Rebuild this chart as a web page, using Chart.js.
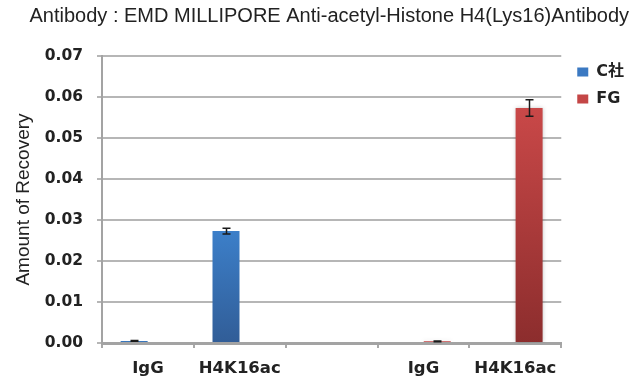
<!DOCTYPE html>
<html>
<head>
<meta charset="utf-8">
<script src="https://cdn.jsdelivr.net/npm/chart.js@4.4.1/dist/chart.umd.min.js"></script>
<style>
  html, body { margin: 0; padding: 0; background: #ffffff; }
  #wrap { width: 635px; height: 378px; }
</style>
</head>
<body>
<div id="wrap"><canvas id="chart" width="635" height="378"></canvas></div>
<script>
// Categories along the x axis (third slot is an empty spacer between the groups)
const categories = ['IgG', 'H4K16ac', '', 'IgG', 'H4K16ac'];
const seriesNames = ['C社', 'FG'];

// Recovery amounts and their error (± half-range) per category
const cValues  = [0.0005, 0.0273, null, null, null];
const cErrors  = [0.0001, 0.0007, null, null, null];
const fgValues = [null, null, null, 0.0004, 0.0573];
const fgErrors = [null, null, null, 0.0001, 0.0020];

// y-axis range and step
const yMin = 0;
const yMax = 0.07;
const yStep = 0.01;

const chartTitle = 'Antibody : EMD MILLIPORE Anti-acetyl-Histone H4(Lys16)Antibody';
const yAxisTitle = 'Amount of Recovery';

// Vertical gradient running from the top of each bar down to its base
function barGradient(topColor, bottomColor) {
  return (ctx) => {
    const chart = ctx.chart;
    const y = chart.scales && chart.scales.y;
    if (!chart.chartArea || !y || ctx.raw == null) return topColor;
    const top = y.getPixelForValue(ctx.raw);
    const base = y.getPixelForValue(0);
    if (!(base > top)) return topColor;
    const g = chart.ctx.createLinearGradient(0, top, 0, base);
    g.addColorStop(0, topColor);
    g.addColorStop(1, bottomColor);
    return g;
  };
}

// Soft drop shadow behind the bars of datasets flagged with `shadow`
const barShadow = {
  id: 'barShadow',
  beforeDatasetDraw(chart, args) {
    const ds = chart.data.datasets[args.index];
    if (!ds.shadow) return;
    const ctx = chart.ctx;
    ctx.save();
    ctx.shadowColor = 'rgba(0,0,0,0.22)';
    ctx.shadowBlur = 4;
    ctx.shadowOffsetX = 0;
    ctx.shadowOffsetY = 0;
  },
  afterDatasetDraw(chart, args) {
    const ds = chart.data.datasets[args.index];
    if (!ds.shadow) return;
    chart.ctx.restore();
  }
};

// Draws a capped vertical error bar on every bar that has an error value
const errorBars = {
  id: 'errorBars',
  afterDatasetsDraw(chart) {
    const { ctx, scales: { y } } = chart;
    ctx.save();
    ctx.strokeStyle = '#1a1a1a';
    ctx.lineWidth = 1.5;
    chart.data.datasets.forEach((ds, i) => {
      const meta = chart.getDatasetMeta(i);
      meta.data.forEach((bar, j) => {
        const v = ds.data[j];
        const e = ds.errors ? ds.errors[j] : null;
        if (v == null || e == null) return;
        const x = Math.round(bar.x) + 0.5;
        const yt = y.getPixelForValue(v + e);
        const yb = y.getPixelForValue(v - e);
        const cap = 4;
        ctx.beginPath();
        ctx.moveTo(x, yt); ctx.lineTo(x, yb);
        ctx.moveTo(x - cap, yt); ctx.lineTo(x + cap, yt);
        ctx.moveTo(x - cap, yb); ctx.lineTo(x + cap, yb);
        ctx.stroke();
      });
    });
    ctx.restore();
  }
};

// Nudges the legend block to its place beside the plot
const legendPlacement = {
  id: 'legendPlacement',
  afterLayout(chart, args, opts) {
    const lg = chart.legend;
    if (!lg) return;
    const dx = opts.dx || 0, dy = opts.dy || 0;
    lg.left += dx; lg.right += dx;
    lg.top += dy; lg.bottom += dy;
  }
};

const legendColors = ['#3b79c2', '#c44646'];

new Chart(document.getElementById('chart'), {
  type: 'bar',
  data: {
    labels: categories,
    datasets: [
      {
        label: seriesNames[0],
        data: cValues,
        errors: cErrors,
        backgroundColor: barGradient('#3c7fc9', '#315d97'),
        borderWidth: 0
      },
      {
        label: seriesNames[1],
        data: fgValues,
        errors: fgErrors,
        shadow: true,
        backgroundColor: barGradient('#c94848', '#8c2d2d'),
        borderWidth: 0
      }
    ]
  },
  options: {
    responsive: false,
    animation: false,
    devicePixelRatio: 1,
    categoryPercentage: 0.6,
    barPercentage: 0.98,
    layout: { padding: { left: 0, right: 6, top: 0, bottom: 0 } },
    plugins: {
      title: {
        display: true,
        text: chartTitle,
        align: 'end',
        color: '#222222',
        font: { family: 'Liberation Sans', size: 20, weight: 'normal' },
        padding: { top: 4, bottom: 28 }
      },
      legend: {
        display: true,
        position: 'right',
        align: 'start',
        fullSize: false,
        labels: {
          boxWidth: 11,
          boxHeight: 9,
          padding: 11,
          color: '#222222',
          font: { family: "'DejaVu Sans', 'Noto Sans CJK JP'", size: 16, weight: 'bold' },
          generateLabels(chart) {
            const items = Chart.defaults.plugins.legend.labels.generateLabels(chart);
            items.forEach((it, i) => { it.fillStyle = legendColors[i]; it.lineWidth = 0; it.strokeStyle = 'rgba(0,0,0,0)'; });
            return items;
          }
        }
      },
      legendPlacement: { dx: 5, dy: -3 },
      tooltip: { enabled: false }
    },
    scales: {
      x: {
        offset: true,
        grid: {
          offset: true,
          drawOnChartArea: false,
          drawTicks: true,
          tickLength: 5,
          color: '#a8a8a8',
          lineWidth: 2
        },
        border: { display: true, color: '#a3a3a3', width: 3 },
        ticks: {
          padding: 11,
          color: '#222222',
          font: { family: 'DejaVu Sans', size: 16.5, weight: 'bold' },
          maxRotation: 0,
          autoSkip: false
        },
        afterFit(scale) { scale.height = 35; }
      },
      y: {
        min: yMin,
        max: yMax,
        grid: {
          color: '#b6b6b6',
          lineWidth: 2,
          drawTicks: true,
          tickLength: 5
        },
        border: { display: true, color: '#a3a3a3', width: 2 },
        ticks: {
          stepSize: yStep,
          padding: 14,
          color: '#222222',
          font: { family: 'DejaVu Sans', size: 15.5, weight: 'bold' },
          callback: (v) => Number(v).toFixed(2)
        },
        title: {
          display: true,
          text: yAxisTitle,
          color: '#222222',
          font: { family: 'Liberation Sans', size: 19, weight: 'normal' },
          padding: { top: 12, bottom: 0 }
        },
        afterFit(scale) { scale.width = 102; }
      }
    }
  },
  plugins: [barShadow, errorBars, legendPlacement]
});
</script>
</body>
</html>
